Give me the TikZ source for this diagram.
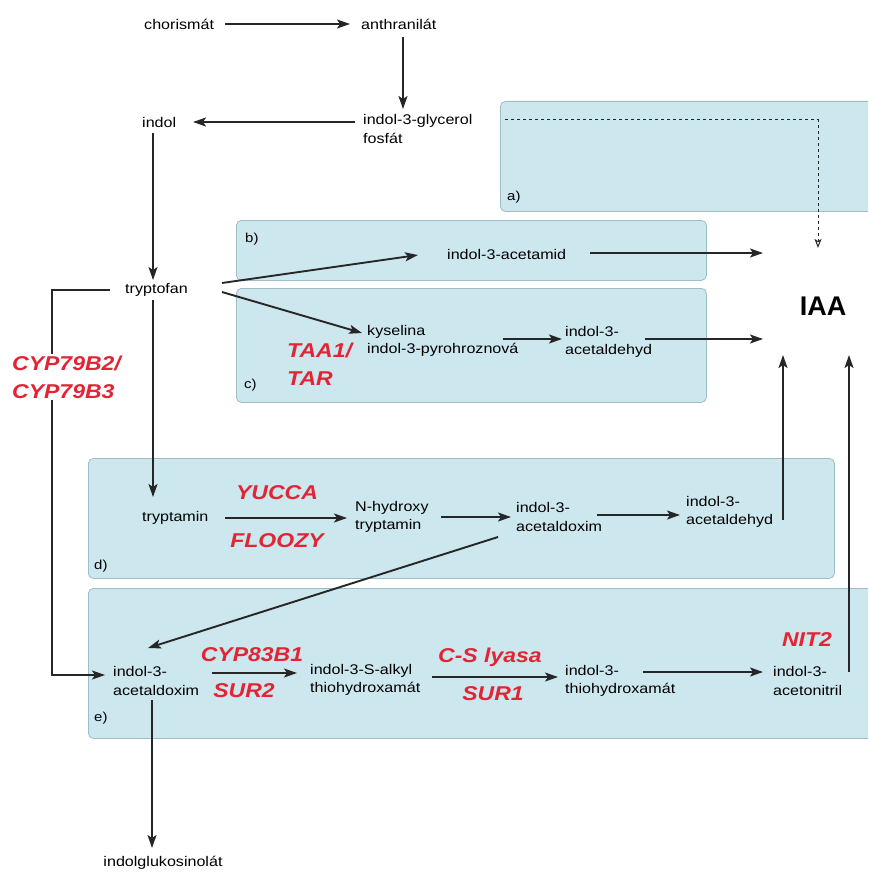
\documentclass[tikz,border=0pt]{standalone}
\usepackage{fontspec}
\setmainfont{Liberation Sans}[FakeStretch=1.15]
\newfontfamily\iaafont{Liberation Sans}
\usetikzlibrary{arrows.meta,calc}
\definecolor{boxfill}{RGB}{205,231,239}
\definecolor{boxline}{RGB}{160,188,198}
\definecolor{arrcol}{RGB}{38,38,38}
\definecolor{enzred}{RGB}{226,36,52}
\begin{document}
\begin{tikzpicture}[x=1pt,y=-1pt,
  txt/.style={inner sep=0pt, anchor=west, font=\fontsize{14}{18.5}\selectfont, align=left},
  enz/.style={inner sep=0pt, font=\fontsize{20}{28}\selectfont\bfseries\itshape, text=enzred, align=left},
  panel/.style={draw=boxline, fill=boxfill, rounded corners=5pt, line width=0.8pt, inner sep=0pt, anchor=north west},
  lbl/.style={inner sep=0pt, anchor=west, font=\fontsize{13}{15}\selectfont},
  arr/.style={draw=arrcol, line width=1.9pt, -{Stealth[length=13pt,width=9pt,inset=3pt]}},
  dashedarr/.style={draw=arrcol, line width=1pt, dash pattern=on 3pt off 3pt, -{Stealth[length=9pt,width=7pt,inset=2pt,open]}}
]
\useasboundingbox (0,0) rectangle (868,872);
\clip (0,0) rectangle (868,872);

% panels
\node[panel, minimum width=390, minimum height=110] (pa) at (500,101) {};
\node[panel, minimum width=470, minimum height=60] (pb) at (236,220) {};
\node[panel, minimum width=470, minimum height=114] (pc) at (236,288) {};
\node[panel, minimum width=746, minimum height=120] (pd) at (88,458) {};
\node[panel, minimum width=800, minimum height=150] (pe) at (88,588) {};

\node[lbl] (la) at (507,197) {a)};
\node[lbl] (lb) at (245,239) {b)};
\node[lbl] (lc) at (244,385) {c)};
\node[lbl] (ld) at (94,566) {d)};
\node[lbl] (le) at (94,718) {e)};

% compounds
\node[txt] (chor) at (144,24) {chorismát};
\node[txt] (anth) at (361,24) {anthranilát};
\node[txt] (glyc) at (363,129) {indol-3-glycerol\\fosfát};
\node[txt] (indol) at (142,122) {indol};
\node[txt] (tryp) at (125,290) {tryptofan};
\node[txt] (acetamid) at (447,254) {indol-3-acetamid};
\node[txt] (kys) at (367,341) {kyselina\\indol-3-pyrohroznová};
\node[txt] (cald) at (565,342) {indol-3-\\acetaldehyd};
\node[inner sep=0pt, font=\fontsize{27}{30}\iaafont\bfseries] (IAA) at (823,306) {IAA};
\node[txt] (trypt) at (142,518) {tryptamin};
\node[txt] (nhyd) at (355,517) {N-hydroxy\\tryptamin};
\node[txt] (dox) at (516,517) {indol-3-\\acetaldoxim};
\node[txt] (dald) at (686,512) {indol-3-\\acetaldehyd};
\node[txt] (edox) at (113,681) {indol-3-\\acetaldoxim};
\node[txt] (alkyl) at (310,680) {indol-3-S-alkyl\\thiohydroxamát};
\node[txt] (thio) at (565,681) {indol-3-\\thiohydroxamát};
\node[txt] (nitril) at (773,681) {indol-3-\\acetonitril};
\node[txt, anchor=center] (gluk) at (163,863) {indolglukosinolát};

% connectors
\draw[arr] ($(chor.west)+(81,0)$) -- ($(anth.west)+(-11,0)$);
\draw[arr] ($(anth.west)+(42,13)$) -- ($(glyc.west)+(40,-20)$);
\draw[arr] ($(glyc.west)+(-8,-7)$) -- ($(indol.west)+(51,0)$);
\draw[arr] ($(indol.west)+(11,11)$) -- ($(tryp.west)+(28,-10)$);
\draw[arr] ($(tryp.west)+(97,-7)$) -- ($(acetamid.west)+(-29,1)$);
\draw[arr] ($(tryp.west)+(97,2)$) -- ($(kys.west)+(-5,-8)$);
\draw[arr] ($(acetamid.west)+(143,-1)$) -- ($(IAA.center)+(-60,-53)$);
\draw[arr] ($(kys.west)+(136,-2)$) -- ($(cald.west)+(-3,-3)$);
\draw[arr] ($(cald.west)+(80,-3)$) -- ($(IAA.center)+(-60,33)$);
\draw[dashedarr] ($(glyc.west)+(142,-9)$) -| ($(IAA.center)+(-5,-58)$);
\draw[arr] ($(tryp.west)+(28,10)$) -- ($(trypt.west)+(11,-21)$);
\draw[arr] ($(trypt.west)+(83,0)$) -- ($(nhyd.west)+(-8,1)$);
\draw[arr] ($(nhyd.west)+(86,0)$) -- ($(dox.west)+(-5,0)$);
\draw[arr] ($(dox.west)+(81,-2)$) -- ($(dald.west)+(-6,3)$);
\draw[arr] ($(dald.west)+(97,8)$) -- ($(IAA.center)+(-40,49)$);
\draw[arr] ($(dox.west)+(-18,20)$) -- ($(edox.west)+(35,-33)$);
\draw[arr] ($(tryp.west)+(-15,0)$) -- ++(-58,0) |- ($(edox.west)+(-8,-6)$);
\draw[arr] ($(edox.west)+(99,-8)$) -- ($(alkyl.west)+(-13,-7)$);
\draw[arr] ($(alkyl.west)+(122,-3)$) -- ($(thio.west)+(-7,-4)$);
\draw[arr] ($(thio.west)+(78,-9)$) -- ($(nitril.west)+(-10,-9)$);
\draw[arr] ($(nitril.west)+(76,-9)$) -- ($(IAA.center)+(26,49)$);
\draw[arr] ($(edox.west)+(39,19)$) -- ($(gluk.center)+(-11,-15)$);

% enzymes
\node[enz, anchor=west, fill=white, inner sep=2pt] (cyp79) at (10,377) {CYP79B2/\\CYP79B3};
\node[enz, anchor=west] (taa) at (287,364) {TAA1/\\TAR};
\node[enz] (yucca) at (277,493) {YUCCA};
\node[enz] (floozy) at (277,541) {FLOOZY};
\node[enz] (cyp83) at (252,655) {CYP83B1};
\node[enz] (sur2) at (244,691) {SUR2};
\node[enz] (csl) at (490,657) {C-S lyasa};
\node[enz] (sur1) at (493,694) {SUR1};
\node[enz] (nit2) at (807,640) {NIT2};
\end{tikzpicture}
\end{document}
